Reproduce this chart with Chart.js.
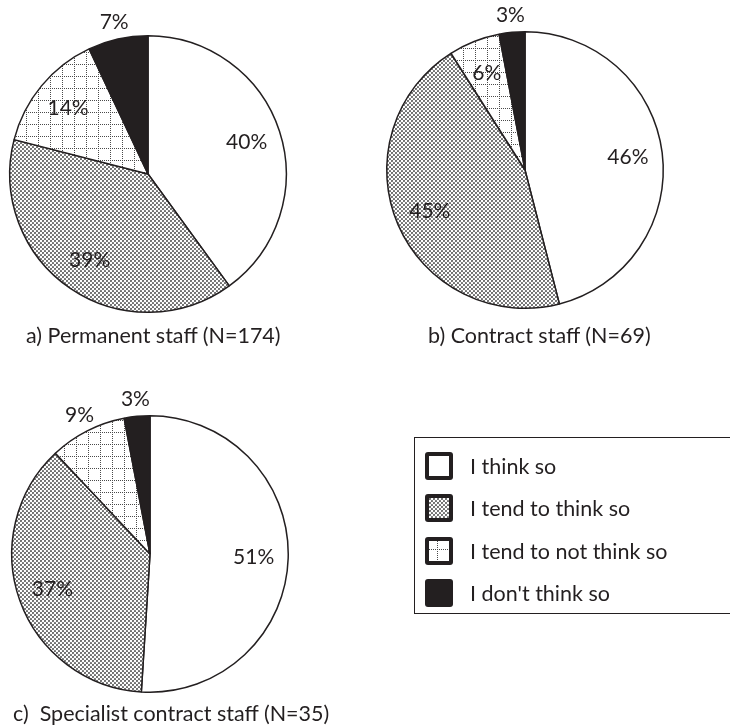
<!DOCTYPE html>
<html>
<head>
<meta charset="utf-8">
<script src="https://cdn.jsdelivr.net/npm/chart.js@4/dist/chart.umd.min.js"></script>
<style>
  body { margin: 0; width: 730px; height: 727px; overflow: hidden; background: #fff; position: relative;
         font-family: Lato, "Noto Sans", sans-serif; color: #231f20; }
  .pie { position: absolute; width: 340px; height: 340px; }
  .cap { position: absolute; font-size: 21.5px; line-height: 24px; white-space: pre; }
  #legend { position: absolute; left: 414px; top: 437px; width: 340px; height: 177px;
            border: 1.5px solid #231f20; box-sizing: border-box; }
  .row { position: absolute; left: 10px; height: 28px; display: flex; align-items: center; font-size: 21.5px; }
  .row canvas { margin-right: 17px; }
</style>
</head>
<body>
<div class="pie" style="left:-22px;top:4px"><canvas id="pieA"></canvas></div>
<div class="pie" style="left:355px;top:0px"><canvas id="pieB"></canvas></div>
<div class="pie" style="left:-20px;top:384px"><canvas id="pieC"></canvas></div>
<div class="cap" id="capA" style="left:26px;top:323px"></div>
<div class="cap" id="capB" style="left:428px;top:323px"></div>
<div class="cap" id="capC" style="left:13px;top:701px"></div>
<div id="legend"></div>

<script>
let categories = ['I think so', 'I tend to think so', 'I tend to not think so', "I don't think so"];
let permanentStaff = [40, 39, 14, 7];
let contractStaff = [46, 45, 6, 3];
let specialistStaff = [51, 37, 9, 3];
let captions = ['a) Permanent staff (N=174)', 'b) Contract staff (N=69)', 'c)  Specialist contract staff (N=35)'];

let ink = '#231f20';

// small tiles for the hatched fills
function makeTile(size, draw) {
  let c = document.createElement('canvas');
  c.width = size; c.height = size;
  let g = c.getContext('2d');
  g.fillStyle = '#fff';
  g.fillRect(0, 0, size, size);
  draw(g);
  return g.createPattern(c, 'repeat');
}

let dotted = makeTile(4, (g) => {
  g.fillStyle = '#666';
  [[1, 1], [3, 3]].forEach(([x, y]) => {
    g.beginPath();
    g.arc(x, y, 1.1, 0, Math.PI * 2);
    g.fill();
  });
});

let grid = makeTile(12, (g) => {
  g.fillStyle = '#4a4a4a';
  for (let i = 0; i < 12; i += 2) {
    g.fillRect(i, 0, 1, 1);
    g.fillRect(0, i, 1, 1);
  }
});

let fills = ['#ffffff', dotted, grid, ink];

// percent labels, inside the slice or just outside the rim
let pctLabels = {
  id: 'pctLabels',
  afterDatasetsDraw(chart, args, opts) {
    let ctx = chart.ctx;
    let values = chart.data.datasets[0].data;
    ctx.save();
    ctx.font = '21px Lato, "Noto Sans", sans-serif';
    ctx.fillStyle = ink;
    ctx.textAlign = 'center';
    ctx.textBaseline = 'middle';
    chart.getDatasetMeta(0).data.forEach((arc, i) => {
      let p = arc.getProps(['x', 'y', 'startAngle', 'endAngle', 'outerRadius'], true);
      let mid = (p.startAngle + p.endAngle) / 2;
      let r = opts.outside.includes(i) ? p.outerRadius + 17 : p.outerRadius * 0.75;
      ctx.fillText(values[i] + '%', p.x + Math.cos(mid) * r, p.y + Math.sin(mid) * r);
    });
    ctx.restore();
  }
};

function drawPie(id, values, outside) {
  let ctx = document.getElementById(id).getContext('2d');
  return new Chart(ctx, {
    type: 'pie',
    data: {
      labels: categories,
      datasets: [{
        data: values,
        backgroundColor: fills,
        borderColor: ink,
        borderWidth: 1.5
      }]
    },
    options: {
      responsive: true,
      maintainAspectRatio: false,
      animation: false,
      events: [],
      layout: { padding: 31 },
      plugins: {
        legend: { display: false },
        tooltip: { enabled: false },
        pctLabels: { outside: outside }
      }
    },
    plugins: [pctLabels]
  });
}

drawPie('pieA', permanentStaff, [3]);
drawPie('pieB', contractStaff, [3]);
drawPie('pieC', specialistStaff, [2, 3]);

document.getElementById('capA').textContent = captions[0];
document.getElementById('capB').textContent = captions[1];
document.getElementById('capC').textContent = captions[2];

// legend box
let legend = document.getElementById('legend');
let rowTops = [14, 56, 99, 141];
categories.forEach((name, i) => {
  let row = document.createElement('div');
  row.className = 'row';
  row.style.top = rowTops[i] + 'px';
  let sw = document.createElement('canvas');
  sw.width = 28; sw.height = 28;
  let g = sw.getContext('2d');
  g.fillStyle = ink;
  g.beginPath();
  g.roundRect(0, 0, 28, 28, 3);
  g.fill();
  if (i < 3) {
    g.fillStyle = fills[i];
    g.fillRect(4, 4, 20, 20);
  }
  row.appendChild(sw);
  row.appendChild(document.createTextNode(name));
  legend.appendChild(row);
});
</script>
</body>
</html>
